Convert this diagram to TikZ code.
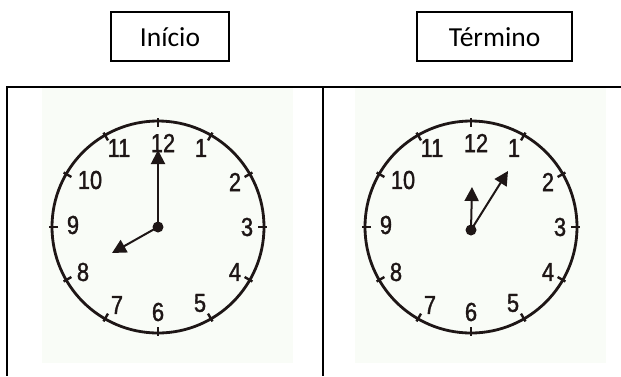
\documentclass[tikz,border=0pt]{standalone}
\usepackage{fontspec}
\setmainfont{Carlito}
\newfontfamily\clockfont[FakeStretch=0.84,FakeBold=1.4]{Liberation Sans}
\usetikzlibrary{arrows.meta,calc}
\definecolor{facebg}{RGB}{249,252,247}
\definecolor{ink}{RGB}{30,22,22}
\tikzset{
  tableline/.style={line width=2.2pt, black},
  labelbox/.style={draw, line width=1.3pt, inner sep=0pt, font=\fontsize{27.5}{30}\selectfont, text height=19pt, text depth=0pt},
  face/.style={draw=ink, line width=2.8pt},
  tickline/.style={ink, line width=2.4pt},
  hand/.style={ink, line width=2pt, -{Triangle[length=14pt,width=14pt]}},
  hub/.style={circle, fill=ink, inner sep=0pt, minimum size=11pt},
  num/.style={text=ink, font=\clockfont\fontsize{26}{26}\selectfont, inner sep=0pt}
}
\newcommand{\clockface}[2]{%
  \fill[facebg] (#1-116,88) rectangle (#1+135,363);
  \draw[face] (#1,227) circle[radius=106];
  \foreach \a in {0,30,...,330}
    \draw[tickline] ($(#1,227)+(\a:100)$) -- ($(#1,227)+(\a:109)$);
  \node[num] (#2n12) at (#1+5,143) {12};
  \node[num] (#2n1) at (#1+43,148) {1};
  \node[num] (#2n2) at (#1+77,182) {2};
  \node[num] (#2n3) at (#1+89,227) {3};
  \node[num] (#2n4) at (#1+77,272) {4};
  \node[num] (#2n5) at (#1+42,303) {5};
  \node[num] (#2n6) at (#1,312) {6};
  \node[num] (#2n7) at (#1-41,305) {7};
  \node[num] (#2n8) at (#1-75,272) {8};
  \node[num] (#2n9) at (#1-85,225) {9};
  \node[num] (#2n10) at (#1-68,180) {10};
  \node[num] (#2n11) at (#1-39,148) {11};
}
\begin{document}
\begin{tikzpicture}[x=1pt,y=-1pt]
\useasboundingbox (0,0) rectangle (621,376);
\fill[white] (0,0) rectangle (621,376);
% header boxes
\node[labelbox, minimum width=118pt, minimum height=49pt] (inicio) at (170,36.5) {Início};
\node[labelbox, minimum width=155pt, minimum height=49pt] (termino) at (494.5,36.5) {Término};
% clock faces
\clockface{158}{a}
\clockface{471}{b}
% table
\draw[tableline] (7,87) -- (621,87);
\draw[tableline] (7,86) -- (7,376);
\draw[tableline] (323,86) -- (323,376);
% clock 1 hands (8:00)
\node[hub] (hubA) at (158,227) {};
\coordinate (minA) at (158,150);
\coordinate (hourA) at (112,253);
\draw[hand] (hubA.center) -- (minA);
\draw[hand] (hubA.center) -- (hourA);
% clock 2 hands
\node[hub] (hubB) at (471,230) {};
\coordinate (minB) at (472,187);
\coordinate (hourB) at (508,171);
\draw[hand] (hubB.center) -- (minB);
\draw[hand] (hubB.center) -- (hourB);
\end{tikzpicture}
\end{document}
